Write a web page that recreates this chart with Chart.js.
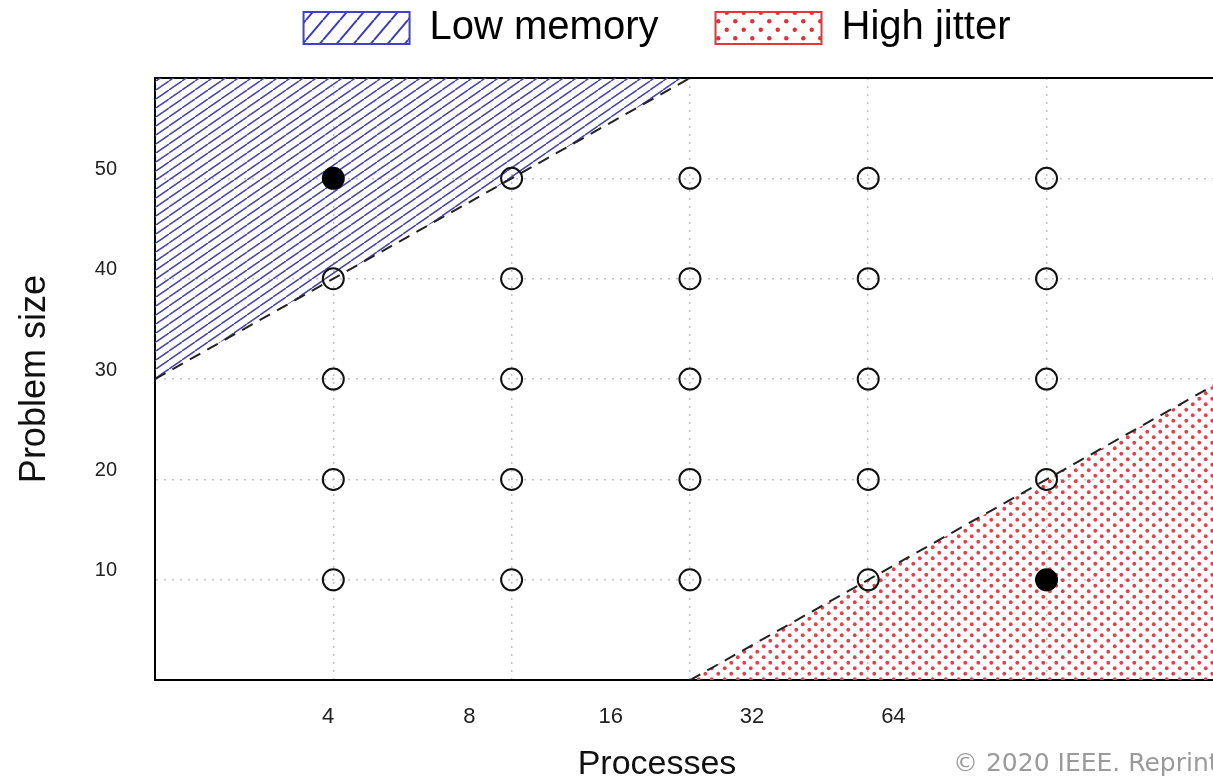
<!DOCTYPE html>
<html>
<head>
<meta charset="utf-8">
<script src="https://cdn.jsdelivr.net/npm/chart.js@4"></script>
<style>
    html, body { margin: 0; padding: 0; background: #fff; overflow: hidden; }
    #wrap { position: relative; width: 1213px; height: 781px; overflow: hidden; }
    #chart { position: absolute; left: 0; top: 0; }
    #note {
        position: absolute; left: 953px; top: 748px; white-space: nowrap;
        font-family: 'DejaVu Sans', sans-serif; font-size: 25px; color: #9a9a9a;
    }
</style>
</head>
<body>
<div id="wrap">
    <canvas id="chart" width="1314" height="781"></canvas>
    <div id="note">© 2020 IEEE. Reprinted, with permission</div>
</div>
<script>
const processTicks = ['4', '8', '16', '32', '64'];
const processSlots = [1, 2, 3, 4, 5];
const sizeTicks = [10, 20, 30, 40, 50];

// region edges (dashed lines)
const lowMemoryEdge = [{x: 0, y: 30}, {x: 3, y: 60}];
const highJitterEdge = [{x: 3, y: 0}, {x: 7, y: 40}];

// measured configurations
const openRuns = [
    {x: 1, y: 10}, {x: 1, y: 20}, {x: 1, y: 30}, {x: 1, y: 40},
    {x: 2, y: 10}, {x: 2, y: 20}, {x: 2, y: 30}, {x: 2, y: 40}, {x: 2, y: 50},
    {x: 3, y: 10}, {x: 3, y: 20}, {x: 3, y: 30}, {x: 3, y: 40}, {x: 3, y: 50},
    {x: 4, y: 10}, {x: 4, y: 20}, {x: 4, y: 30}, {x: 4, y: 40}, {x: 4, y: 50},
    {x: 5, y: 20}, {x: 5, y: 30}, {x: 5, y: 40}, {x: 5, y: 50}
];
const failedRuns = [{x: 1, y: 50}, {x: 5, y: 10}];

function hatch(w, h, color, lw) {
    const c = document.createElement('canvas');
    c.width = w; c.height = h;
    const g = c.getContext('2d');
    g.strokeStyle = color;
    g.lineWidth = lw;
    g.beginPath();
    [-w, 0, w].forEach(dx => { g.moveTo(dx, h); g.lineTo(dx + w, 0); });
    g.stroke();
    return g.createPattern(c, 'repeat');
}

function dots(w, h, r, color) {
    const c = document.createElement('canvas');
    c.width = w; c.height = h;
    const g = c.getContext('2d');
    g.fillStyle = color;
    [[w / 4, h / 4], [3 * w / 4, 3 * h / 4]].forEach(p => {
        g.beginPath();
        g.arc(p[0], p[1], r, 0, Math.PI * 2);
        g.fill();
    });
    return g.createPattern(c, 'repeat');
}

const plotHatch = hatch(13, 9, '#4646a8', 1.5);
const plotDots = dots(13, 11, 1.9, '#e0404c');
const keyHatch = hatch(17, 20, '#3c3cb8', 2);
const keyDots = dots(17, 17, 2.2, '#e0303c');

const gridColor = '#c4c4c4';
const font = "'Liberation Sans', Arial, sans-serif";

new Chart(document.getElementById('chart'), {
    type: 'scatter',
    data: {
        datasets: [
            {
                label: 'Low memory',
                data: lowMemoryEdge,
                showLine: true,
                fill: 'end',
                backgroundColor: plotHatch,
                borderColor: '#222',
                borderWidth: 2,
                borderDash: [12, 8],
                pointRadius: 0,
                order: 2
            },
            {
                label: 'High jitter',
                data: highJitterEdge,
                showLine: true,
                fill: 'start',
                backgroundColor: plotDots,
                borderColor: '#222',
                borderWidth: 2,
                borderDash: [12, 8],
                pointRadius: 0,
                order: 2
            },
            {
                label: '',
                data: openRuns,
                pointRadius: 10.5,
                pointBorderWidth: 2,
                borderColor: '#111',
                backgroundColor: 'rgba(0,0,0,0)',
                order: 1
            },
            {
                label: '',
                data: failedRuns,
                pointRadius: 10.5,
                pointBorderWidth: 2,
                borderColor: '#000',
                backgroundColor: '#000',
                order: 1
            }
        ]
    },
    options: {
        responsive: false,
        animation: false,
        layout: { padding: { top: -49, left: 0, right: 0, bottom: 0 } },
        plugins: {
            tooltip: { enabled: false },
            title: {
                display: true,
                position: 'bottom',
                text: 'Processes',
                color: '#111',
                font: { family: font, size: 34, weight: 'normal' },
                padding: { top: 4, bottom: -4 }
            },
            legend: {
                position: 'top',
                labels: {
                    boxWidth: 106,
                    boxHeight: 32,
                    padding: 57,
                    color: '#000',
                    font: { family: font, size: 40 },
                    filter: item => item.text !== '',
                    generateLabels: chart => {
                        const items = Chart.defaults.plugins.legend.labels.generateLabels(chart);
                        const keyFill = [keyHatch, keyDots];
                        const keyEdge = ['#4040c8', '#e03838'];
                        return items.map(it => {
                            if (it.datasetIndex < 2) {
                                it.fillStyle = keyFill[it.datasetIndex];
                                it.strokeStyle = keyEdge[it.datasetIndex];
                                it.lineWidth = 2;
                                it.lineDash = [];
                            }
                            return it;
                        });
                    }
                }
            }
        },
        scales: {
            x: {
                type: 'linear',
                position: 'bottom',
                min: 0,
                max: 6.43,
                ticks: { display: false, stepSize: 1 },
                grid: { color: gridColor, lineWidth: 1.5, drawTicks: false },
                border: { color: '#000', width: 2, dash: [2, 6] },
                afterFit: axis => { axis.height = 0; }
            },
            xLab: {
                type: 'linear',
                position: 'bottom',
                weight: 1,
                min: -0.2248,
                max: 7.888,
                afterBuildTicks: axis => { axis.ticks = processSlots.map(v => ({value: v})); },
                ticks: {
                    padding: 16,
                    color: '#222',
                    font: { family: font, size: 22 },
                    callback: (v, i) => processTicks[i]
                },
                grid: { display: false },
                border: { display: false },
                afterFit: axis => { axis.height = 60; }
            },
            xTop: {
                type: 'linear',
                position: 'top',
                min: 0,
                max: 6.43,
                ticks: { display: false },
                grid: { display: false },
                border: { color: '#000', width: 2 },
                afterFit: axis => { axis.height = 20; }
            },
            y: {
                min: 0,
                max: 60,
                ticks: {
                    stepSize: 10,
                    padding: 38,
                    labelOffset: -9,
                    color: '#222',
                    font: { family: font, size: 20 },
                    callback: v => sizeTicks.includes(v) ? String(v) : ''
                },
                grid: { color: gridColor, lineWidth: 1.5, drawTicks: false },
                border: { color: '#000', width: 2, dash: [2, 6] },
                title: {
                    display: true,
                    text: 'Problem size',
                    color: '#111',
                    font: { family: font, size: 36 },
                    padding: { top: 13, bottom: 3 }
                },
                afterFit: axis => { axis.width = 155; }
            }
        }
    }
});
</script>
</body>
</html>
